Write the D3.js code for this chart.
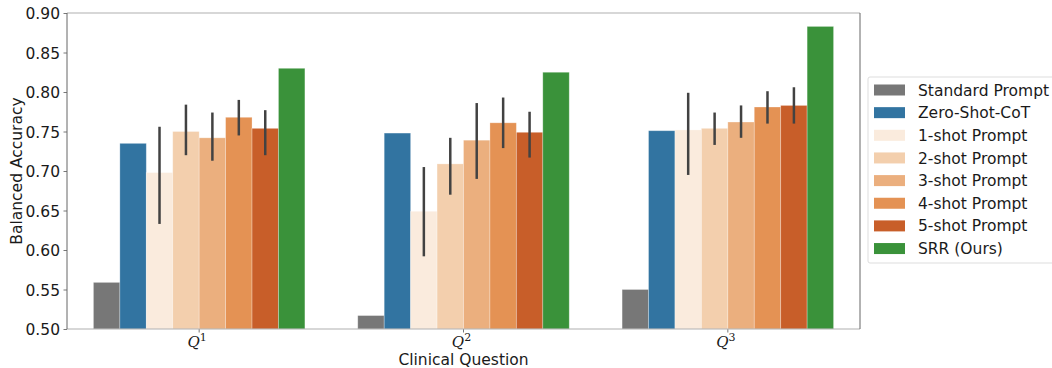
<!DOCTYPE html>
<html>
<head>
<meta charset="utf-8">
<script src="https://cdn.jsdelivr.net/npm/d3@7"></script>
<style>
  html, body { margin: 0; padding: 0; background: #fff; }
  svg { display: block; }
  text { font-family: "DejaVu Sans", sans-serif; fill: #1a1a1a; }
</style>
</head>
<body>
<svg id="chart" width="1052" height="368"></svg>
<script>
// ---- data ----
const questions = ["1", "2", "3"];
const methods = ["Standard Prompt", "Zero-Shot-CoT", "1-shot Prompt", "2-shot Prompt",
                 "3-shot Prompt", "4-shot Prompt", "5-shot Prompt", "SRR (Ours)"];
const colors = ["#777777", "#3274a1", "#faebdd", "#f3cfad", "#ebaf7e", "#e49254", "#c85e29", "#3a923a"];
const valuesQ1 = [0.559, 0.735, 0.698, 0.750, 0.742, 0.768, 0.754, 0.830];
const valuesQ2 = [0.517, 0.748, 0.649, 0.709, 0.739, 0.761, 0.749, 0.825];
const valuesQ3 = [0.550, 0.751, 0.752, 0.754, 0.762, 0.781, 0.783, 0.883];
const errLowQ1 = [null, null, 0.633, 0.720, 0.713, 0.745, 0.720, null];
const errHighQ1 = [null, null, 0.756, 0.784, 0.774, 0.790, 0.777, null];
const errLowQ2 = [null, null, 0.592, 0.670, 0.690, 0.729, 0.717, null];
const errHighQ2 = [null, null, 0.705, 0.742, 0.786, 0.793, 0.775, null];
const errLowQ3 = [null, null, 0.695, 0.733, 0.742, 0.760, 0.760, null];
const errHighQ3 = [null, null, 0.799, 0.774, 0.783, 0.801, 0.806, null];
const yTicks = [0.50, 0.55, 0.60, 0.65, 0.70, 0.75, 0.80, 0.85, 0.90];
const yLabel = "Balanced Accuracy";
const xLabel = "Clinical Question";

const allValues = [valuesQ1, valuesQ2, valuesQ3];
const allLow = [errLowQ1, errLowQ2, errLowQ3];
const allHigh = [errHighQ1, errHighQ2, errHighQ3];

// ---- layout ----
const svg = d3.select("#chart");
const L = 67, R = 860, T = 13, B = 329;

const x = d3.scaleBand().domain(questions).range([L, R]).paddingInner(0.2).paddingOuter(0.1);
const xi = d3.scaleBand().domain(methods).range([0, x.bandwidth()]);
const y = d3.scaleLinear().domain([0.5, 0.9]).range([B, T]);

const rows = [];
questions.forEach((q, qi) => {
  methods.forEach((m, mi) => {
    rows.push({q, m, mi, v: allValues[qi][mi], lo: allLow[qi][mi], hi: allHigh[qi][mi]});
  });
});

// bars
svg.append("g").selectAll("rect").data(rows).join("rect")
  .attr("x", d => x(d.q) + xi(d.m))
  .attr("y", d => y(d.v))
  .attr("width", xi.bandwidth())
  .attr("height", d => y(0.5) - y(d.v))
  .attr("fill", d => colors[d.mi])
  .attr("stroke", "rgba(255,255,255,0.35)")
  .attr("stroke-width", 0.8);

// error bars
svg.append("g").selectAll("line").data(rows.filter(d => d.lo !== null)).join("line")
  .attr("x1", d => x(d.q) + xi(d.m) + xi.bandwidth() / 2)
  .attr("x2", d => x(d.q) + xi(d.m) + xi.bandwidth() / 2)
  .attr("y1", d => y(d.lo))
  .attr("y2", d => y(d.hi))
  .attr("stroke", "#424242")
  .attr("stroke-width", 2.5);

// y axis
const yAxis = d3.axisLeft(y).tickValues(yTicks).tickFormat(d3.format(".2f")).tickSizeInner(3.5).tickSizeOuter(0).tickPadding(3.5);
const gy = svg.append("g").attr("transform", `translate(${L},0)`).call(yAxis);
gy.select(".domain").remove();
gy.selectAll(".tick line").attr("stroke", "#555").attr("stroke-width", 0.8);
gy.selectAll(".tick text").style("font-size", "15.5px").style("font-family", "'DejaVu Sans', sans-serif").attr("fill", "#1a1a1a").attr("dy", "0.36em");

// x axis ticks
const gx = svg.append("g").attr("transform", `translate(0,${B})`);
gx.selectAll("line").data(questions).join("line")
  .attr("x1", d => x(d) + x.bandwidth() / 2).attr("x2", d => x(d) + x.bandwidth() / 2)
  .attr("y1", 0).attr("y2", 3.5).attr("stroke", "#555").attr("stroke-width", 0.8);
const xt = gx.selectAll("text").data(questions).join("text")
  .attr("x", d => x(d) + x.bandwidth() / 2 - 2)
  .attr("y", 18)
  .attr("text-anchor", "middle");
xt.append("tspan").text("Q")
  .style("font-family", "'DejaVu Serif', serif").style("font-style", "italic").style("font-size", "15px");
xt.append("tspan").text(d => d).attr("dy", -6).style("font-size", "11px")
  .style("font-family", "'DejaVu Serif', serif");

// spines
svg.append("line").attr("x1", L).attr("x2", R).attr("y1", T).attr("y2", T).attr("stroke", "#b0b0b0").attr("stroke-width", 1.2);
svg.append("line").attr("x1", L).attr("x2", R).attr("y1", B).attr("y2", B).attr("stroke", "#b0b0b0").attr("stroke-width", 1.2);
svg.append("line").attr("x1", L).attr("x2", L).attr("y1", T).attr("y2", B).attr("stroke", "#666").attr("stroke-width", 1);
svg.append("line").attr("x1", R).attr("x2", R).attr("y1", T).attr("y2", B).attr("stroke", "#666").attr("stroke-width", 1);

// axis labels
svg.append("text").attr("x", (L + R) / 2).attr("y", 364.5).attr("text-anchor", "middle")
  .style("font-size", "15.5px").text(xLabel);
svg.append("text").attr("transform", `translate(22,${(T + B) / 2}) rotate(-90)`).attr("text-anchor", "middle")
  .style("font-size", "15.5px").text(yLabel);

// legend
const lg = svg.append("g").attr("transform", "translate(868,77)");
lg.append("rect").attr("x", 0).attr("y", 0).attr("width", 200).attr("height", 186).attr("rx", 2)
  .attr("fill", "#fff").attr("stroke", "#dddddd").attr("stroke-width", 1);
const li = lg.selectAll("g.item").data(methods).join("g").attr("class", "item")
  .attr("transform", (d, i) => `translate(0,${13 + i * 22.65})`);
li.append("rect").attr("x", 6).attr("y", -5.5).attr("width", 31).attr("height", 11)
  .attr("fill", (d, i) => colors[i]);
li.append("text").attr("x", 50).attr("y", 0).attr("dy", "0.36em").style("font-size", "15.5px").text(d => d);
</script>
</body>
</html>
